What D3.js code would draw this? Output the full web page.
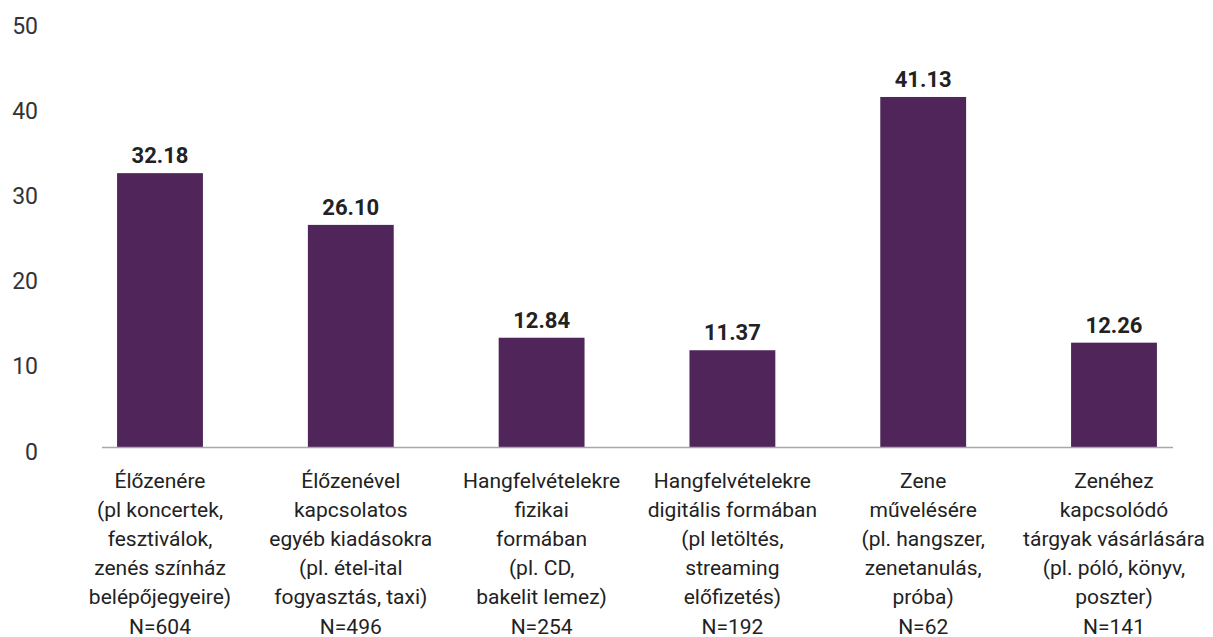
<!DOCTYPE html>
<html>
<head>
<meta charset="utf-8">
<script src="https://cdn.jsdelivr.net/npm/d3@7"></script>
<style>
  body { margin: 0; background: #fff; }
  svg { display: block; font-family: Roboto, "Noto Sans", sans-serif; }
</style>
</head>
<body>
<svg id="chart" width="1213" height="637"></svg>
<script>
const categories = [
    ["Élőzenére", "(pl koncertek,", "fesztiválok,", "zenés színház", "belépőjegyeire)"],
    ["Élőzenével", "kapcsolatos", "egyéb kiadásokra", "(pl. étel-ital", "fogyasztás, taxi)"],
    ["Hangfelvételekre", "fizikai", "formában", "(pl. CD,", "bakelit lemez)"],
    ["Hangfelvételekre", "digitális formában", "(pl letöltés,", "streaming", "előfizetés)"],
    ["Zene", "művelésére", "(pl. hangszer,", "zenetanulás,", "próba)"],
    ["Zenéhez", "kapcsolódó", "tárgyak vásárlására", "(pl. póló, könyv,", "poszter)"]
];
const counts = [604, 496, 254, 192, 62, 141];
const values = [32.18, 26.10, 12.84, 11.37, 41.13, 12.26];
const yTicks = [0, 10, 20, 30, 40, 50];

const baseY = 447;
const topY = 21.5;

const svg = d3.select("#chart");

const x = d3.scaleBand()
    .domain(d3.range(values.length))
    .range([64.6, 1209.4])
    .paddingInner(0.55)
    .paddingOuter(0.275);

const y = d3.scaleLinear()
    .domain([0, 50])
    .range([baseY, topY]);

// y tick labels, no axis line
const yAxis = d3.axisLeft(y).tickValues(yTicks).tickSize(0).tickPadding(0);
const gy = svg.append("g")
    .attr("transform", "translate(38,0)")
    .call(yAxis);
gy.select(".domain").remove();
gy.selectAll("text")
    .attr("dy", null)
    .attr("y", 12)
    .attr("fill", "#333")
    .style("font-size", "23px")
    .style("font-family", "Roboto, sans-serif");

// bars
svg.append("g")
    .selectAll("rect")
    .data(values)
    .join("rect")
    .attr("x", (d, i) => x(i))
    .attr("y", (d) => y(d))
    .attr("width", x.bandwidth())
    .attr("height", (d) => baseY - y(d))
    .attr("fill", "#4f255a");

// baseline
svg.append("line")
    .attr("x1", 102)
    .attr("x2", 1173)
    .attr("y1", baseY + 0.5)
    .attr("y2", baseY + 0.5)
    .attr("stroke", "#a8a8a8")
    .attr("stroke-width", 1.5);

// value labels
svg.append("g")
    .selectAll("text")
    .data(values)
    .join("text")
    .attr("x", (d, i) => x(i) + x.bandwidth() / 2)
    .attr("y", (d) => y(d) - 10)
    .attr("text-anchor", "middle")
    .attr("fill", "#222")
    .style("font-size", "22px")
    .style("font-weight", "bold")
    .text((d) => d.toFixed(2));

// category labels
const cat = svg.append("g")
    .selectAll("text")
    .data(categories)
    .join("text")
    .attr("text-anchor", "middle")
    .attr("fill", "#222")
    .style("font-size", "21px");

cat.selectAll("tspan")
    .data((d, i) => d.concat(["N=" + counts[i]]).map((t) => ({t, i})))
    .join("tspan")
    .attr("x", (d) => x(d.i) + x.bandwidth() / 2)
    .attr("y", (d, j) => 488 + j * 29.1)
    .text((d) => d.t);
</script>
</body>
</html>
